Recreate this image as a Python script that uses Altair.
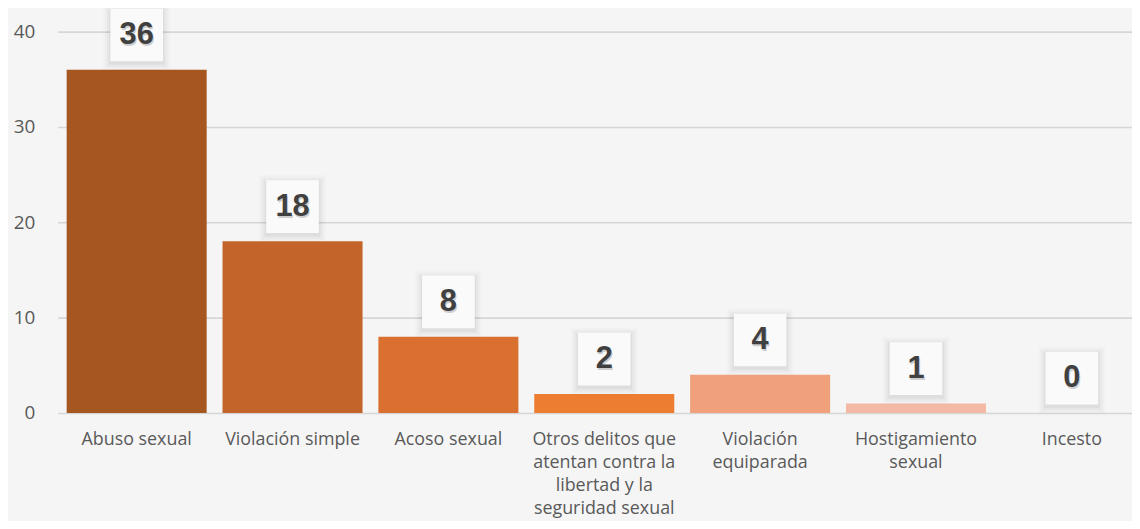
import json
import altair as alt
import pandas as pd

categories = [
    "Abuso sexual",
    "Violación simple",
    "Acoso sexual",
    "Otros delitos que atentan contra la libertad y la seguridad sexual",
    "Violación equiparada",
    "Hostigamiento sexual",
    "Incesto",
]
values = [36, 18, 8, 2, 4, 1, 0]
label_lines = [
    ["Abuso sexual"],
    ["Violación simple"],
    ["Acoso sexual"],
    ["Otros delitos que", "atentan contra la", "libertad y la", "seguridad sexual"],
    ["Violación", "equiparada"],
    ["Hostigamiento", "sexual"],
    ["Incesto"],
]
bar_colors = ["#A6561F", "#C3642A", "#DA7030", "#EC7D31", "#F1A07C", "#F4B9A4", "#F4B9A4"]
y_ticks = [0, 10, 20, 30, 40]

df = pd.DataFrame({"cat": categories, "val": values})
label_map = {c: l for c, l in zip(categories, label_lines)}
label_expr = json.dumps(label_map, ensure_ascii=False) + "[datum.label]"

x_enc = alt.X(
    "cat:N",
    sort=categories,
    scale=alt.Scale(range=[0, 1101], paddingInner=0.1, paddingOuter=0.057),
    axis=alt.Axis(
        title=None,
        labelAngle=0,
        labelExpr=label_expr,
        labelFont="Open Sans",
        labelFontSize=18,
        labelColor="#595959",
        labelLineHeight=23,
        labelPadding=18,
        ticks=False,
        tickSize=0,
        domain=False,
        grid=False,
        labelLimit=300,
    ),
)
y_enc = alt.Y(
    "val:Q",
    scale=alt.Scale(domain=[0, 40], nice=False),
    axis=alt.Axis(
        title=None,
        values=y_ticks,
        labelFont="Open Sans",
        labelFontSize=19,
        labelColor="#595959",
        labelPadding=23,
        ticks=False,
        domain=False,
        grid=True,
        gridColor="#D6D6D6",
        gridWidth=1.6,
    ),
)

base = alt.Chart(df)

bars = base.mark_bar(size=141).encode(
    x=x_enc,
    y=y_enc,
    color=alt.Color("cat:N", sort=categories,
                    scale=alt.Scale(domain=categories, range=bar_colors), legend=None),
)

shadow_layers = []
for k, op in [(8, 0.012), (6, 0.018), (4, 0.025), (2, 0.035)]:
    side = 52 + 2 * k
    shadow_layers.append(
        base.mark_point(shape="square", filled=True, size=side * side,
                        color="#000000", opacity=op, yOffset=-33).encode(
            x=alt.X("cat:N", sort=categories), y="val:Q")
    )

box = base.mark_point(shape="square", filled=True, size=53 * 53,
                      color="#FAFAFA", opacity=1, yOffset=-35).encode(
    x=alt.X("cat:N", sort=categories), y="val:Q")

text_shadow = base.mark_text(font="Liberation Sans", fontWeight="bold", fontSize=31,
                             color="#9A9A9A", opacity=0.45, baseline="middle",
                             yOffset=-33, dx=1).encode(
    x=alt.X("cat:N", sort=categories), y="val:Q", text="val:Q")

text = base.mark_text(font="Liberation Sans", fontWeight="bold", fontSize=31,
                      color="#404040", baseline="middle", yOffset=-35).encode(
    x=alt.X("cat:N", sort=categories), y="val:Q", text="val:Q")

chart = alt.layer(bars, *shadow_layers, box, text_shadow, text).properties(
    width=1082,
    height=384,
    autosize=alt.AutoSizeParams(type="none"),
    padding={"left": 50, "top": 22, "right": 0, "bottom": 107},
    background="#F5F5F5",
).configure_view(stroke=None)

chart.save("out.html", embed_options={"renderer": "svg", "actions": False})
